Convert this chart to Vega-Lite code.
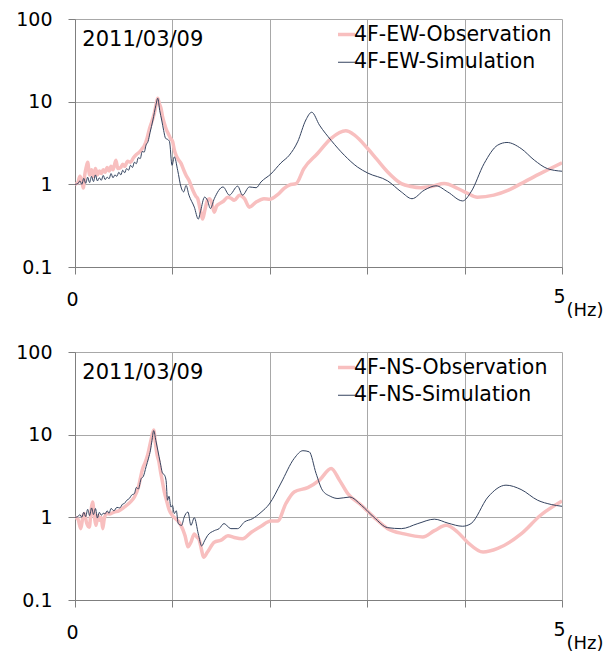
{
"$schema": "https://vega.github.io/schema/vega-lite/v6.json",
"padding": {"left": 15, "top": 10, "right": 4, "bottom": 4},
"background": "white",
"config": {"font": "DejaVu Sans", "view": {"stroke": null}},
"spacing": 85,
"bounds": "flush",
"resolve": {"scale": {"color": "independent", "strokeWidth": "independent"}, "legend": {"color": "independent", "strokeWidth": "independent"}},
"datasets": {
"ew": [
{"s":"4F-EW-Observation","f":0,"a":1.0},{"s":"4F-EW-Observation","f":0.03,"a":1.05},{"s":"4F-EW-Observation","f":0.05,"a":1.25},{"s":"4F-EW-Observation","f":0.07,"a":1.1},{"s":"4F-EW-Observation","f":0.085,"a":0.9},{"s":"4F-EW-Observation","f":0.1,"a":1.3},{"s":"4F-EW-Observation","f":0.115,"a":1.6},{"s":"4F-EW-Observation","f":0.13,"a":1.85},{"s":"4F-EW-Observation","f":0.15,"a":1.3},{"s":"4F-EW-Observation","f":0.17,"a":1.5},{"s":"4F-EW-Observation","f":0.19,"a":1.25},{"s":"4F-EW-Observation","f":0.21,"a":1.55},{"s":"4F-EW-Observation","f":0.23,"a":1.3},{"s":"4F-EW-Observation","f":0.25,"a":1.45},{"s":"4F-EW-Observation","f":0.27,"a":1.35},{"s":"4F-EW-Observation","f":0.29,"a":1.5},{"s":"4F-EW-Observation","f":0.31,"a":1.4},{"s":"4F-EW-Observation","f":0.33,"a":1.6},{"s":"4F-EW-Observation","f":0.35,"a":1.45},{"s":"4F-EW-Observation","f":0.37,"a":1.65},{"s":"4F-EW-Observation","f":0.39,"a":1.5},{"s":"4F-EW-Observation","f":0.42,"a":1.95},{"s":"4F-EW-Observation","f":0.44,"a":1.55},{"s":"4F-EW-Observation","f":0.47,"a":1.6},{"s":"4F-EW-Observation","f":0.49,"a":1.75},{"s":"4F-EW-Observation","f":0.51,"a":1.65},{"s":"4F-EW-Observation","f":0.54,"a":1.9},{"s":"4F-EW-Observation","f":0.57,"a":1.85},{"s":"4F-EW-Observation","f":0.6,"a":2.1},{"s":"4F-EW-Observation","f":0.63,"a":2.3},{"s":"4F-EW-Observation","f":0.66,"a":2.45},{"s":"4F-EW-Observation","f":0.69,"a":2.7},{"s":"4F-EW-Observation","f":0.71,"a":2.9},{"s":"4F-EW-Observation","f":0.74,"a":3.6},{"s":"4F-EW-Observation","f":0.76,"a":4.5},{"s":"4F-EW-Observation","f":0.79,"a":5.8},{"s":"4F-EW-Observation","f":0.814,"a":7.2},{"s":"4F-EW-Observation","f":0.835,"a":9.5},{"s":"4F-EW-Observation","f":0.849,"a":11.0},{"s":"4F-EW-Observation","f":0.865,"a":9.5},{"s":"4F-EW-Observation","f":0.883,"a":8.3},{"s":"4F-EW-Observation","f":0.9,"a":6.5},{"s":"4F-EW-Observation","f":0.917,"a":5.5},{"s":"4F-EW-Observation","f":0.938,"a":4.6},{"s":"4F-EW-Observation","f":0.958,"a":4.1},{"s":"4F-EW-Observation","f":0.98,"a":3.6},{"s":"4F-EW-Observation","f":1.003,"a":3.27},{"s":"4F-EW-Observation","f":1.02,"a":2.6},{"s":"4F-EW-Observation","f":1.037,"a":2.25},{"s":"4F-EW-Observation","f":1.06,"a":2.0},{"s":"4F-EW-Observation","f":1.09,"a":1.78},{"s":"4F-EW-Observation","f":1.115,"a":1.5},{"s":"4F-EW-Observation","f":1.14,"a":1.29},{"s":"4F-EW-Observation","f":1.17,"a":1.12},{"s":"4F-EW-Observation","f":1.21,"a":0.85},{"s":"4F-EW-Observation","f":1.24,"a":0.72},{"s":"4F-EW-Observation","f":1.26,"a":0.67},{"s":"4F-EW-Observation","f":1.285,"a":0.5},{"s":"4F-EW-Observation","f":1.31,"a":0.38},{"s":"4F-EW-Observation","f":1.335,"a":0.5},{"s":"4F-EW-Observation","f":1.36,"a":0.64},{"s":"4F-EW-Observation","f":1.38,"a":0.67},{"s":"4F-EW-Observation","f":1.4,"a":0.62},{"s":"4F-EW-Observation","f":1.43,"a":0.46},{"s":"4F-EW-Observation","f":1.455,"a":0.55},{"s":"4F-EW-Observation","f":1.48,"a":0.58},{"s":"4F-EW-Observation","f":1.52,"a":0.62},{"s":"4F-EW-Observation","f":1.57,"a":0.7},{"s":"4F-EW-Observation","f":1.6,"a":0.68},{"s":"4F-EW-Observation","f":1.635,"a":0.64},{"s":"4F-EW-Observation","f":1.69,"a":0.74},{"s":"4F-EW-Observation","f":1.74,"a":0.67},{"s":"4F-EW-Observation","f":1.79,"a":0.53},{"s":"4F-EW-Observation","f":1.86,"a":0.61},{"s":"4F-EW-Observation","f":1.94,"a":0.67},{"s":"4F-EW-Observation","f":2.0,"a":0.66},{"s":"4F-EW-Observation","f":2.08,"a":0.75},{"s":"4F-EW-Observation","f":2.15,"a":0.9},{"s":"4F-EW-Observation","f":2.2,"a":0.98},{"s":"4F-EW-Observation","f":2.27,"a":1.02},{"s":"4F-EW-Observation","f":2.35,"a":1.55},{"s":"4F-EW-Observation","f":2.49,"a":2.36},{"s":"4F-EW-Observation","f":2.63,"a":3.6},{"s":"4F-EW-Observation","f":2.78,"a":4.44},{"s":"4F-EW-Observation","f":2.87,"a":3.94},{"s":"4F-EW-Observation","f":3.005,"a":2.71},{"s":"4F-EW-Observation","f":3.1,"a":2.0},{"s":"4F-EW-Observation","f":3.21,"a":1.41},{"s":"4F-EW-Observation","f":3.35,"a":1.02},{"s":"4F-EW-Observation","f":3.45,"a":0.94},{"s":"4F-EW-Observation","f":3.55,"a":0.91},{"s":"4F-EW-Observation","f":3.67,"a":0.95},{"s":"4F-EW-Observation","f":3.79,"a":1.02},{"s":"4F-EW-Observation","f":3.93,"a":0.89},{"s":"4F-EW-Observation","f":4.03,"a":0.78},{"s":"4F-EW-Observation","f":4.13,"a":0.7},{"s":"4F-EW-Observation","f":4.3,"a":0.74},{"s":"4F-EW-Observation","f":4.45,"a":0.85},{"s":"4F-EW-Observation","f":4.58,"a":1.02},{"s":"4F-EW-Observation","f":4.72,"a":1.25},{"s":"4F-EW-Observation","f":4.85,"a":1.49},{"s":"4F-EW-Observation","f":5.0,"a":1.82},
{"s":"4F-EW-Simulation","f":0,"a":1.0},{"s":"4F-EW-Simulation","f":0.03,"a":1.02},{"s":"4F-EW-Simulation","f":0.05,"a":1.1},{"s":"4F-EW-Simulation","f":0.07,"a":1.0},{"s":"4F-EW-Simulation","f":0.09,"a":1.18},{"s":"4F-EW-Simulation","f":0.11,"a":1.03},{"s":"4F-EW-Simulation","f":0.13,"a":1.22},{"s":"4F-EW-Simulation","f":0.15,"a":1.05},{"s":"4F-EW-Simulation","f":0.17,"a":1.25},{"s":"4F-EW-Simulation","f":0.19,"a":1.08},{"s":"4F-EW-Simulation","f":0.21,"a":1.3},{"s":"4F-EW-Simulation","f":0.23,"a":1.1},{"s":"4F-EW-Simulation","f":0.25,"a":1.2},{"s":"4F-EW-Simulation","f":0.27,"a":1.12},{"s":"4F-EW-Simulation","f":0.29,"a":1.28},{"s":"4F-EW-Simulation","f":0.31,"a":1.14},{"s":"4F-EW-Simulation","f":0.33,"a":1.22},{"s":"4F-EW-Simulation","f":0.35,"a":1.17},{"s":"4F-EW-Simulation","f":0.37,"a":1.35},{"s":"4F-EW-Simulation","f":0.39,"a":1.2},{"s":"4F-EW-Simulation","f":0.41,"a":1.3},{"s":"4F-EW-Simulation","f":0.43,"a":1.25},{"s":"4F-EW-Simulation","f":0.45,"a":1.4},{"s":"4F-EW-Simulation","f":0.47,"a":1.3},{"s":"4F-EW-Simulation","f":0.49,"a":1.48},{"s":"4F-EW-Simulation","f":0.51,"a":1.38},{"s":"4F-EW-Simulation","f":0.53,"a":1.55},{"s":"4F-EW-Simulation","f":0.55,"a":1.48},{"s":"4F-EW-Simulation","f":0.57,"a":1.7},{"s":"4F-EW-Simulation","f":0.59,"a":1.6},{"s":"4F-EW-Simulation","f":0.61,"a":1.85},{"s":"4F-EW-Simulation","f":0.63,"a":1.78},{"s":"4F-EW-Simulation","f":0.65,"a":2.1},{"s":"4F-EW-Simulation","f":0.67,"a":2.05},{"s":"4F-EW-Simulation","f":0.69,"a":2.5},{"s":"4F-EW-Simulation","f":0.71,"a":2.45},{"s":"4F-EW-Simulation","f":0.73,"a":3.0},{"s":"4F-EW-Simulation","f":0.75,"a":3.3},{"s":"4F-EW-Simulation","f":0.77,"a":4.2},{"s":"4F-EW-Simulation","f":0.8,"a":6.0},{"s":"4F-EW-Simulation","f":0.83,"a":9.0},{"s":"4F-EW-Simulation","f":0.85,"a":11.0},{"s":"4F-EW-Simulation","f":0.87,"a":7.8},{"s":"4F-EW-Simulation","f":0.89,"a":6.0},{"s":"4F-EW-Simulation","f":0.91,"a":4.5},{"s":"4F-EW-Simulation","f":0.93,"a":3.6},{"s":"4F-EW-Simulation","f":0.95,"a":3.5},{"s":"4F-EW-Simulation","f":0.97,"a":3.3},{"s":"4F-EW-Simulation","f":0.996,"a":1.7},{"s":"4F-EW-Simulation","f":1.02,"a":2.15},{"s":"4F-EW-Simulation","f":1.054,"a":1.48},{"s":"4F-EW-Simulation","f":1.088,"a":0.93},{"s":"4F-EW-Simulation","f":1.116,"a":0.81},{"s":"4F-EW-Simulation","f":1.14,"a":0.97},{"s":"4F-EW-Simulation","f":1.17,"a":0.74},{"s":"4F-EW-Simulation","f":1.225,"a":0.53},{"s":"4F-EW-Simulation","f":1.266,"a":0.38},{"s":"4F-EW-Simulation","f":1.29,"a":0.48},{"s":"4F-EW-Simulation","f":1.33,"a":0.7},{"s":"4F-EW-Simulation","f":1.36,"a":0.64},{"s":"4F-EW-Simulation","f":1.39,"a":0.51},{"s":"4F-EW-Simulation","f":1.43,"a":0.67},{"s":"4F-EW-Simulation","f":1.52,"a":0.93},{"s":"4F-EW-Simulation","f":1.585,"a":0.74},{"s":"4F-EW-Simulation","f":1.67,"a":0.95},{"s":"4F-EW-Simulation","f":1.72,"a":0.74},{"s":"4F-EW-Simulation","f":1.79,"a":0.93},{"s":"4F-EW-Simulation","f":1.86,"a":0.91},{"s":"4F-EW-Simulation","f":1.91,"a":1.07},{"s":"4F-EW-Simulation","f":2.01,"a":1.33},{"s":"4F-EW-Simulation","f":2.115,"a":1.82},{"s":"4F-EW-Simulation","f":2.2,"a":2.25},{"s":"4F-EW-Simulation","f":2.286,"a":3.27},{"s":"4F-EW-Simulation","f":2.37,"a":6.0},{"s":"4F-EW-Simulation","f":2.43,"a":7.45},{"s":"4F-EW-Simulation","f":2.51,"a":5.2},{"s":"4F-EW-Simulation","f":2.63,"a":3.4},{"s":"4F-EW-Simulation","f":2.765,"a":2.25},{"s":"4F-EW-Simulation","f":2.9,"a":1.62},{"s":"4F-EW-Simulation","f":3.005,"a":1.37},{"s":"4F-EW-Simulation","f":3.21,"a":1.1},{"s":"4F-EW-Simulation","f":3.35,"a":0.81},{"s":"4F-EW-Simulation","f":3.46,"a":0.67},{"s":"4F-EW-Simulation","f":3.586,"a":0.85},{"s":"4F-EW-Simulation","f":3.706,"a":0.96},{"s":"4F-EW-Simulation","f":3.826,"a":0.81},{"s":"4F-EW-Simulation","f":3.98,"a":0.63},{"s":"4F-EW-Simulation","f":4.066,"a":0.81},{"s":"4F-EW-Simulation","f":4.2,"a":1.78},{"s":"4F-EW-Simulation","f":4.34,"a":2.98},{"s":"4F-EW-Simulation","f":4.435,"a":3.21},{"s":"4F-EW-Simulation","f":4.58,"a":2.71},{"s":"4F-EW-Simulation","f":4.716,"a":1.96},{"s":"4F-EW-Simulation","f":4.85,"a":1.55},{"s":"4F-EW-Simulation","f":5.0,"a":1.44}
],
"ns": [
{"s":"4F-NS-Observation","f":0,"a":1.0},{"s":"4F-NS-Observation","f":0.03,"a":0.95},{"s":"4F-NS-Observation","f":0.06,"a":0.73},{"s":"4F-NS-Observation","f":0.08,"a":1.0},{"s":"4F-NS-Observation","f":0.096,"a":1.11},{"s":"4F-NS-Observation","f":0.12,"a":0.85},{"s":"4F-NS-Observation","f":0.147,"a":0.76},{"s":"4F-NS-Observation","f":0.165,"a":1.2},{"s":"4F-NS-Observation","f":0.18,"a":1.53},{"s":"4F-NS-Observation","f":0.2,"a":1.0},{"s":"4F-NS-Observation","f":0.215,"a":0.8},{"s":"4F-NS-Observation","f":0.235,"a":1.05},{"s":"4F-NS-Observation","f":0.25,"a":0.92},{"s":"4F-NS-Observation","f":0.27,"a":1.0},{"s":"4F-NS-Observation","f":0.284,"a":0.73},{"s":"4F-NS-Observation","f":0.3,"a":0.95},{"s":"4F-NS-Observation","f":0.32,"a":1.11},{"s":"4F-NS-Observation","f":0.36,"a":1.1},{"s":"4F-NS-Observation","f":0.4,"a":1.16},{"s":"4F-NS-Observation","f":0.45,"a":1.2},{"s":"4F-NS-Observation","f":0.506,"a":1.33},{"s":"4F-NS-Observation","f":0.56,"a":1.5},{"s":"4F-NS-Observation","f":0.61,"a":1.76},{"s":"4F-NS-Observation","f":0.65,"a":2.3},{"s":"4F-NS-Observation","f":0.695,"a":3.9},{"s":"4F-NS-Observation","f":0.72,"a":4.6},{"s":"4F-NS-Observation","f":0.746,"a":5.7},{"s":"4F-NS-Observation","f":0.78,"a":8.6},{"s":"4F-NS-Observation","f":0.808,"a":11.4},{"s":"4F-NS-Observation","f":0.825,"a":8.0},{"s":"4F-NS-Observation","f":0.84,"a":5.95},{"s":"4F-NS-Observation","f":0.86,"a":4.8},{"s":"4F-NS-Observation","f":0.876,"a":3.7},{"s":"4F-NS-Observation","f":0.895,"a":2.8},{"s":"4F-NS-Observation","f":0.917,"a":2.03},{"s":"4F-NS-Observation","f":0.94,"a":1.6},{"s":"4F-NS-Observation","f":0.968,"a":1.22},{"s":"4F-NS-Observation","f":1.0,"a":1.05},{"s":"4F-NS-Observation","f":1.034,"a":0.96},{"s":"4F-NS-Observation","f":1.06,"a":0.9},{"s":"4F-NS-Observation","f":1.088,"a":0.8},{"s":"4F-NS-Observation","f":1.13,"a":0.6},{"s":"4F-NS-Observation","f":1.16,"a":0.44},{"s":"4F-NS-Observation","f":1.19,"a":0.5},{"s":"4F-NS-Observation","f":1.225,"a":0.63},{"s":"4F-NS-Observation","f":1.25,"a":0.58},{"s":"4F-NS-Observation","f":1.276,"a":0.53},{"s":"4F-NS-Observation","f":1.3,"a":0.4},{"s":"4F-NS-Observation","f":1.32,"a":0.33},{"s":"4F-NS-Observation","f":1.36,"a":0.38},{"s":"4F-NS-Observation","f":1.43,"a":0.5},{"s":"4F-NS-Observation","f":1.5,"a":0.53},{"s":"4F-NS-Observation","f":1.57,"a":0.6},{"s":"4F-NS-Observation","f":1.635,"a":0.57},{"s":"4F-NS-Observation","f":1.72,"a":0.55},{"s":"4F-NS-Observation","f":1.81,"a":0.66},{"s":"4F-NS-Observation","f":1.91,"a":0.78},{"s":"4F-NS-Observation","f":2.01,"a":0.9},{"s":"4F-NS-Observation","f":2.08,"a":0.9},{"s":"4F-NS-Observation","f":2.165,"a":1.47},{"s":"4F-NS-Observation","f":2.25,"a":2.03},{"s":"4F-NS-Observation","f":2.39,"a":2.29},{"s":"4F-NS-Observation","f":2.51,"a":2.82},{"s":"4F-NS-Observation","f":2.63,"a":3.9},{"s":"4F-NS-Observation","f":2.715,"a":2.82},{"s":"4F-NS-Observation","f":2.8,"a":1.94},{"s":"4F-NS-Observation","f":2.94,"a":1.4},{"s":"4F-NS-Observation","f":3.07,"a":1.0},{"s":"4F-NS-Observation","f":3.21,"a":0.73},{"s":"4F-NS-Observation","f":3.38,"a":0.63},{"s":"4F-NS-Observation","f":3.57,"a":0.58},{"s":"4F-NS-Observation","f":3.69,"a":0.69},{"s":"4F-NS-Observation","f":3.81,"a":0.8},{"s":"4F-NS-Observation","f":3.93,"a":0.66},{"s":"4F-NS-Observation","f":4.03,"a":0.5},{"s":"4F-NS-Observation","f":4.19,"a":0.38},{"s":"4F-NS-Observation","f":4.34,"a":0.42},{"s":"4F-NS-Observation","f":4.58,"a":0.63},{"s":"4F-NS-Observation","f":4.78,"a":1.06},{"s":"4F-NS-Observation","f":5.0,"a":1.58},
{"s":"4F-NS-Simulation","f":0,"a":1.0},{"s":"4F-NS-Simulation","f":0.03,"a":1.02},{"s":"4F-NS-Simulation","f":0.05,"a":1.08},{"s":"4F-NS-Simulation","f":0.07,"a":1.0},{"s":"4F-NS-Simulation","f":0.09,"a":1.15},{"s":"4F-NS-Simulation","f":0.11,"a":1.02},{"s":"4F-NS-Simulation","f":0.13,"a":1.25},{"s":"4F-NS-Simulation","f":0.15,"a":1.05},{"s":"4F-NS-Simulation","f":0.17,"a":1.3},{"s":"4F-NS-Simulation","f":0.19,"a":1.08},{"s":"4F-NS-Simulation","f":0.21,"a":1.28},{"s":"4F-NS-Simulation","f":0.23,"a":0.98},{"s":"4F-NS-Simulation","f":0.25,"a":1.15},{"s":"4F-NS-Simulation","f":0.27,"a":1.06},{"s":"4F-NS-Simulation","f":0.29,"a":1.12},{"s":"4F-NS-Simulation","f":0.31,"a":1.1},{"s":"4F-NS-Simulation","f":0.33,"a":1.2},{"s":"4F-NS-Simulation","f":0.35,"a":1.12},{"s":"4F-NS-Simulation","f":0.37,"a":1.28},{"s":"4F-NS-Simulation","f":0.4,"a":1.2},{"s":"4F-NS-Simulation","f":0.43,"a":1.32},{"s":"4F-NS-Simulation","f":0.46,"a":1.3},{"s":"4F-NS-Simulation","f":0.49,"a":1.45},{"s":"4F-NS-Simulation","f":0.506,"a":1.47},{"s":"4F-NS-Simulation","f":0.53,"a":1.6},{"s":"4F-NS-Simulation","f":0.56,"a":1.7},{"s":"4F-NS-Simulation","f":0.58,"a":1.85},{"s":"4F-NS-Simulation","f":0.61,"a":1.94},{"s":"4F-NS-Simulation","f":0.63,"a":2.3},{"s":"4F-NS-Simulation","f":0.65,"a":2.2},{"s":"4F-NS-Simulation","f":0.68,"a":2.95},{"s":"4F-NS-Simulation","f":0.7,"a":3.1},{"s":"4F-NS-Simulation","f":0.73,"a":4.1},{"s":"4F-NS-Simulation","f":0.755,"a":5.2},{"s":"4F-NS-Simulation","f":0.775,"a":6.5},{"s":"4F-NS-Simulation","f":0.79,"a":8.5},{"s":"4F-NS-Simulation","f":0.808,"a":11.2},{"s":"4F-NS-Simulation","f":0.83,"a":8.5},{"s":"4F-NS-Simulation","f":0.85,"a":6.5},{"s":"4F-NS-Simulation","f":0.875,"a":4.6},{"s":"4F-NS-Simulation","f":0.9,"a":3.4},{"s":"4F-NS-Simulation","f":0.915,"a":3.3},{"s":"4F-NS-Simulation","f":0.935,"a":2.8},{"s":"4F-NS-Simulation","f":0.95,"a":1.61},{"s":"4F-NS-Simulation","f":0.965,"a":1.8},{"s":"4F-NS-Simulation","f":0.985,"a":1.33},{"s":"4F-NS-Simulation","f":1.0,"a":1.4},{"s":"4F-NS-Simulation","f":1.02,"a":1.11},{"s":"4F-NS-Simulation","f":1.04,"a":1.2},{"s":"4F-NS-Simulation","f":1.06,"a":0.84},{"s":"4F-NS-Simulation","f":1.095,"a":0.8},{"s":"4F-NS-Simulation","f":1.12,"a":1.0},{"s":"4F-NS-Simulation","f":1.16,"a":1.16},{"s":"4F-NS-Simulation","f":1.19,"a":0.8},{"s":"4F-NS-Simulation","f":1.225,"a":0.99},{"s":"4F-NS-Simulation","f":1.266,"a":0.63},{"s":"4F-NS-Simulation","f":1.3,"a":0.45},{"s":"4F-NS-Simulation","f":1.33,"a":0.52},{"s":"4F-NS-Simulation","f":1.36,"a":0.6},{"s":"4F-NS-Simulation","f":1.43,"a":0.69},{"s":"4F-NS-Simulation","f":1.48,"a":0.73},{"s":"4F-NS-Simulation","f":1.53,"a":0.84},{"s":"4F-NS-Simulation","f":1.6,"a":0.73},{"s":"4F-NS-Simulation","f":1.67,"a":0.73},{"s":"4F-NS-Simulation","f":1.74,"a":0.88},{"s":"4F-NS-Simulation","f":1.82,"a":0.96},{"s":"4F-NS-Simulation","f":1.91,"a":1.15},{"s":"4F-NS-Simulation","f":1.995,"a":1.45},{"s":"4F-NS-Simulation","f":2.115,"a":2.6},{"s":"4F-NS-Simulation","f":2.25,"a":5.15},{"s":"4F-NS-Simulation","f":2.34,"a":6.4},{"s":"4F-NS-Simulation","f":2.405,"a":6.2},{"s":"4F-NS-Simulation","f":2.475,"a":3.4},{"s":"4F-NS-Simulation","f":2.54,"a":2.13},{"s":"4F-NS-Simulation","f":2.62,"a":1.8},{"s":"4F-NS-Simulation","f":2.7,"a":1.69},{"s":"4F-NS-Simulation","f":2.82,"a":1.76},{"s":"4F-NS-Simulation","f":2.94,"a":1.4},{"s":"4F-NS-Simulation","f":3.07,"a":1.0},{"s":"4F-NS-Simulation","f":3.21,"a":0.75},{"s":"4F-NS-Simulation","f":3.35,"a":0.73},{"s":"4F-NS-Simulation","f":3.52,"a":0.84},{"s":"4F-NS-Simulation","f":3.69,"a":0.95},{"s":"4F-NS-Simulation","f":3.83,"a":0.85},{"s":"4F-NS-Simulation","f":3.98,"a":0.78},{"s":"4F-NS-Simulation","f":4.066,"a":0.84},{"s":"4F-NS-Simulation","f":4.24,"a":1.76},{"s":"4F-NS-Simulation","f":4.425,"a":2.45},{"s":"4F-NS-Simulation","f":4.58,"a":2.17},{"s":"4F-NS-Simulation","f":4.75,"a":1.61},{"s":"4F-NS-Simulation","f":4.89,"a":1.43},{"s":"4F-NS-Simulation","f":5.0,"a":1.36}
]
},
"vconcat": [
{
"width": 487, "height": 248,
"layer": [
{
"data": {"name": "ew"},
"mark": {"type": "line", "interpolate": "monotone", "clip": true},
"encoding": {
"x": {"field": "f", "type": "quantitative", "scale": {"domain": [0, 5], "nice": false, "zero": false},
"axis": {"values": [0, 1, 2, 3, 4, 5], "labelExpr": "datum.value == 0 ? '0' : datum.value == 5 ? '5' : ''", "grid": true, "gridColor": "#a8a8a8", "gridWidth": 1, "domainColor": "#7f7f7f", "tickColor": "#7f7f7f", "tickSize": 7, "labelFontSize": 19, "labelColor": "#000000", "labelFlush": false, "labelOverlap": false, "labelOffset": -3, "labelPadding": {"condition": {"test": "datum.value == 5", "value": 13}, "value": 16}, "title": "(Hz)", "titleFontSize": 18, "titleFontWeight": "normal", "titleColor": "#000000", "titleAlign": "left", "titleBaseline": "alphabetic", "titleAnchor": "start", "titleX": 491, "titleY": 48}},
"y": {"field": "a", "type": "quantitative", "scale": {"type": "log", "domain": [0.1, 100], "nice": false},
"axis": {"values": [0.1, 1, 10, 100], "labelExpr": "format(datum.value, '~g')", "grid": true, "gridColor": "#a8a8a8", "domainColor": "#7f7f7f", "tickColor": "#7f7f7f", "tickSize": 7, "labelFontSize": 19, "labelColor": "#000000", "labelPadding": 16, "labelFlush": false, "labelOverlap": false, "title": null}},
"color": {"field": "s", "type": "nominal", "scale": {"domain": ["4F-EW-Observation", "4F-EW-Simulation"], "range": ["#f8bfbf", "#34435f"]},
"legend": {"title": null, "orient": "none", "legendX": 261, "legendY": 5, "labelFontSize": 20.5, "labelLimit": 0, "labelColor": "#000000", "labelOffset": -3, "symbolType": "stroke", "symbolSize": 289, "rowPadding": 7, "padding": 0}},
"strokeWidth": {"field": "s", "type": "nominal", "scale": {"domain": ["4F-EW-Observation", "4F-EW-Simulation"], "range": [3.5, 1]},
"legend": {"title": null, "orient": "none", "legendX": 261, "legendY": 5, "labelFontSize": 20.5, "labelLimit": 0, "labelColor": "#000000", "labelOffset": -3, "symbolType": "stroke", "symbolSize": 289, "rowPadding": 7, "padding": 0}}
}
},
{
"data": {"values": [{"t": "2011/03/09"}]},
"mark": {"type": "text", "align": "left", "baseline": "alphabetic", "fontSize": 21, "color": "#000000"},
"encoding": {"x": {"datum": 0.075, "type": "quantitative"}, "y": {"datum": 46.7, "type": "quantitative"}, "text": {"field": "t"}}
}
]
},
{
"width": 487, "height": 248,
"layer": [
{
"data": {"name": "ns"},
"mark": {"type": "line", "interpolate": "monotone", "clip": true},
"encoding": {
"x": {"field": "f", "type": "quantitative", "scale": {"domain": [0, 5], "nice": false, "zero": false},
"axis": {"values": [0, 1, 2, 3, 4, 5], "labelExpr": "datum.value == 0 ? '0' : datum.value == 5 ? '5' : ''", "grid": true, "gridColor": "#a8a8a8", "gridWidth": 1, "domainColor": "#7f7f7f", "tickColor": "#7f7f7f", "tickSize": 7, "labelFontSize": 19, "labelColor": "#000000", "labelFlush": false, "labelOverlap": false, "labelOffset": -3, "labelPadding": {"condition": {"test": "datum.value == 5", "value": 13}, "value": 16}, "title": "(Hz)", "titleFontSize": 18, "titleFontWeight": "normal", "titleColor": "#000000", "titleAlign": "left", "titleBaseline": "alphabetic", "titleAnchor": "start", "titleX": 491, "titleY": 48}},
"y": {"field": "a", "type": "quantitative", "scale": {"type": "log", "domain": [0.1, 100], "nice": false},
"axis": {"values": [0.1, 1, 10, 100], "labelExpr": "format(datum.value, '~g')", "grid": true, "gridColor": "#a8a8a8", "domainColor": "#7f7f7f", "tickColor": "#7f7f7f", "tickSize": 7, "labelFontSize": 19, "labelColor": "#000000", "labelPadding": 16, "labelFlush": false, "labelOverlap": false, "title": null}},
"color": {"field": "s", "type": "nominal", "scale": {"domain": ["4F-NS-Observation", "4F-NS-Simulation"], "range": ["#f8bfbf", "#34435f"]},
"legend": {"title": null, "orient": "none", "legendX": 261, "legendY": 5, "labelFontSize": 20.5, "labelLimit": 0, "labelColor": "#000000", "labelOffset": -3, "symbolType": "stroke", "symbolSize": 289, "rowPadding": 7, "padding": 0}},
"strokeWidth": {"field": "s", "type": "nominal", "scale": {"domain": ["4F-NS-Observation", "4F-NS-Simulation"], "range": [3.5, 1]},
"legend": {"title": null, "orient": "none", "legendX": 261, "legendY": 5, "labelFontSize": 20.5, "labelLimit": 0, "labelColor": "#000000", "labelOffset": -3, "symbolType": "stroke", "symbolSize": 289, "rowPadding": 7, "padding": 0}}
}
},
{
"data": {"values": [{"t": "2011/03/09"}]},
"mark": {"type": "text", "align": "left", "baseline": "alphabetic", "fontSize": 21, "color": "#000000"},
"encoding": {"x": {"datum": 0.075, "type": "quantitative"}, "y": {"datum": 46.7, "type": "quantitative"}, "text": {"field": "t"}}
}
]
}
]
}
